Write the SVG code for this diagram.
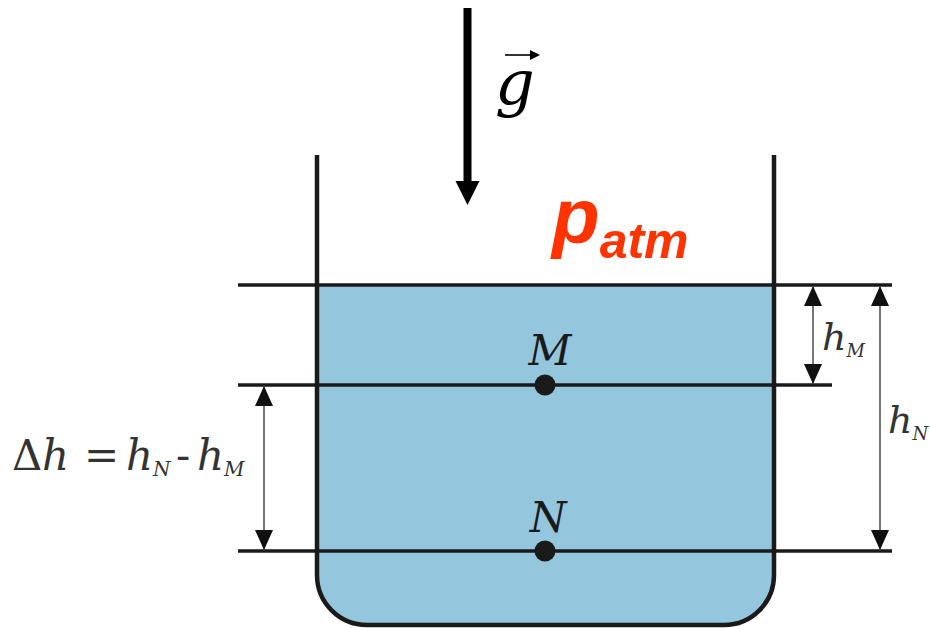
<svg xmlns="http://www.w3.org/2000/svg" width="930" height="628" viewBox="0 0 930 628">
<defs>
<style>
.wall{fill:none;stroke:#1a1a1a;stroke-width:4.5}
.lvl{stroke:#1a1a1a;stroke-width:3.5;fill:none}
.dim{stroke:#555;stroke-width:1.6;fill:none}
.red{font-family:"Liberation Sans",Arial,sans-serif;font-weight:bold;font-style:italic;fill:#ff3300}
</style>
<marker id="ah" viewBox="0 0 20 20" refX="20" refY="10" markerWidth="20" markerHeight="20" markerUnits="userSpaceOnUse" orient="auto-start-reverse">
<path d="M0,1 L20,10 L0,19 Z" fill="#111"/>
</marker>
</defs>
<rect width="930" height="628" fill="#fff"/>
<g id="liquid">
<path d="M317,285 V575 A50,50 0 0 0 367,625 H724 A50,50 0 0 0 774,575 V285 Z" fill="#94c7de"/>
</g>
<g id="levels">
<line class="lvl" x1="238" y1="285" x2="892" y2="285"/>
<line class="lvl" x1="238" y1="385" x2="832" y2="385"/>
<line class="lvl" x1="238" y1="551" x2="892" y2="551"/>
</g>
<g id="vessel">
<path class="wall" d="M317,155 V575 A50,50 0 0 0 367,625 H724 A50,50 0 0 0 774,575 V155"/>
</g>
<g font-family="DejaVu Serif, serif" font-style="italic" fill="#1a1a1a">
<g id="gravity">
<line x1="467.5" y1="8" x2="467.5" y2="184" stroke="#000" stroke-width="8"/>
<path d="M455.5,181 L479.5,181 L467.5,205 Z" fill="#000"/>
<text x="495" y="104" font-size="62" fill="#000">g</text>
<line x1="505" y1="55" x2="535" y2="55" stroke="#000" stroke-width="1.6"/>
<path d="M530,50 L540,55 L530,60 Z" fill="#000"/>
</g>
<g id="pointM">
<circle cx="545" cy="385" r="10.5" fill="#1a1a1a"/>
<text x="550" y="365" font-size="42" text-anchor="middle">M</text>
</g>
<g id="pointN">
<circle cx="545" cy="551" r="10.5" fill="#1a1a1a"/>
<text x="548" y="532" font-size="42" text-anchor="middle">N</text>
</g>
<g id="labels" fill="#333">
<text font-size="42" y="470"><tspan font-style="normal" x="12">Δ</tspan><tspan x="42">h</tspan><tspan font-style="normal" x="84">=</tspan><tspan x="126">h</tspan><tspan font-size="20" x="153" dy="6">N</tspan><tspan font-style="normal" x="176" dy="-6">-</tspan><tspan x="197">h</tspan><tspan font-size="20" x="224" dy="6">M</tspan></text>
<text font-size="38" x="822" y="350">h<tspan font-size="18" dy="7">M</tspan></text>
<text font-size="38" x="888" y="433">h<tspan font-size="18" dy="7">N</tspan></text>
</g>
</g>
<g id="patm">
<text class="red" x="552" y="243" font-size="78">p<tspan font-size="50" dy="15">atm</tspan></text>
</g>
<g id="connectors">
<line class="dim" x1="264" y1="386" x2="264" y2="550" marker-start="url(#ah)" marker-end="url(#ah)"/>
<line class="dim" x1="813" y1="286" x2="813" y2="384" marker-start="url(#ah)" marker-end="url(#ah)"/>
<line class="dim" x1="880" y1="286" x2="880" y2="550" marker-start="url(#ah)" marker-end="url(#ah)"/>
</g>
</svg>
